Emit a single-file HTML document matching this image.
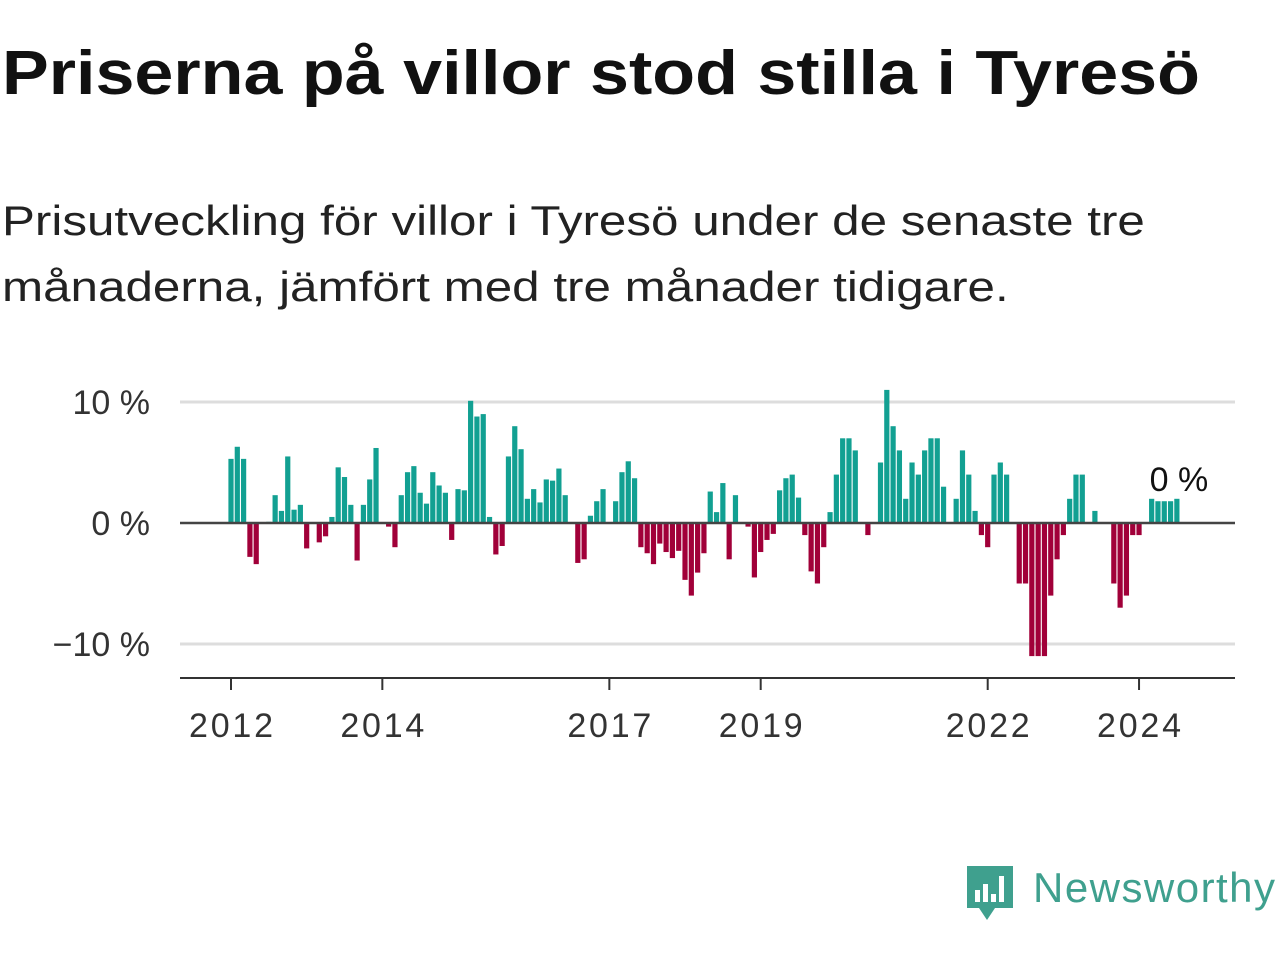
<!DOCTYPE html>
<html><head><meta charset="utf-8"><style>
body{margin:0;width:1280px;height:960px;background:#fff;font-family:"Liberation Sans",sans-serif;overflow:hidden;position:relative}
#title{position:absolute;left:2px;top:38px;font-size:62px;font-weight:bold;color:#111;margin:0;white-space:nowrap;transform:scaleX(1.13);transform-origin:left top}
#sub{position:absolute;left:2px;top:188px;font-size:42px;line-height:66px;color:#222;white-space:nowrap;transform:scaleX(1.175);transform-origin:left top}
#logo{position:absolute;left:965px;top:862px}
</style></head><body>
<h1 id="title">Priserna på villor stod stilla i Tyresö</h1>
<div id="sub">Prisutveckling för villor i Tyresö under de senaste tre<br>månaderna, jämfört med tre månader tidigare.</div>
<svg id="chart" width="1280" height="960" style="position:absolute;left:0;top:0"></svg>
<div id="logo">
<svg width="315" height="70">
<path d="M2 4 h46 v42 h-18 l-8 12 l-8 -12 h-12 z" fill="#3fa08e"/>
<rect x="10" y="28" width="5" height="12" fill="#fff"/><rect x="18" y="22" width="5" height="18" fill="#fff"/><rect x="26" y="32" width="5" height="8" fill="#fff"/><rect x="34" y="14" width="5" height="26" fill="#fff"/>
<text x="68" y="40" font-size="42" fill="#3fa08e" textLength="242" font-family="Liberation Sans, sans-serif">Newsworthy</text>
</svg></div>
<script>
const startYear = 2012;
const values = [5.3,6.3,5.3,-2.8,-3.4,null,0.1,2.3,1.0,5.5,1.1,1.5,
-2.1,null,-1.6,-1.1,0.5,4.6,3.8,1.5,-3.1,1.5,3.6,6.2,
null,-0.3,-2.0,2.3,4.2,4.7,2.5,1.6,4.2,3.1,2.5,-1.4,
2.8,2.7,10.1,8.8,9.0,0.5,-2.6,-1.9,5.5,8.0,6.1,2.0,
2.8,1.7,3.6,3.5,4.5,2.3,null,-3.3,-3.0,0.6,1.8,2.8,
null,1.8,4.2,5.1,3.7,-2.0,-2.5,-3.4,-1.7,-2.4,-2.9,-2.3,
-4.7,-6.0,-4.1,-2.5,2.6,0.9,3.3,-3.0,2.3,null,-0.3,-4.5,
-2.4,-1.4,-0.9,2.7,3.7,4.0,2.1,-1.0,-4.0,-5.0,-2.0,0.9,
4.0,7.0,7.0,6.0,null,-1.0,null,5.0,11.0,8.0,6.0,2.0,
5.0,4.0,6.0,7.0,7.0,3.0,null,2.0,6.0,4.0,1.0,-1.0,
-2.0,4.0,5.0,4.0,null,-5,-5,-11,-11,-11,-6,-3,
-1,2,4,4,null,1,null,null,-5,-7,-6,-1,
-1,null,2,1.8,1.8,1.8,2.0];
const yTicks = [10,0,-10];
const yTickLabels = ["10 %","0 %","−10 %"];
const xTicks = [2012,2014,2017,2019,2022,2024];
const lastLabel = "0 %";

const NS="http://www.w3.org/2000/svg";
const svg=document.getElementById('chart');
const x0=231, pxMonth=75.67/12;
const xs=m=>x0+m*pxMonth;
const ys=v=>523-v*12.1;
function el(t,a,p){const e=document.createElementNS(NS,t);for(const k in a)e.setAttribute(k,a[k]);(p||svg).appendChild(e);return e;}
yTicks.forEach((t,i)=>{
  if(t!==0){const g=el('line',{x1:180,x2:1235,y1:ys(t),y2:ys(t),stroke:'#ddd','stroke-width':3});
  
  }
  const l=el('text',{x:150,y:ys(t)+12,'text-anchor':'end','font-size':34,fill:'#333'});
  l.textContent=yTickLabels[i];
  
  
});
values.forEach((v,i)=>{
  if(v===null)return;
  const x=xs(i)-2.6, y=ys(Math.max(v,0)), h=Math.abs(ys(v)-ys(0));
  const b=el('rect',{x:x,y:y,width:5.2,height:Math.max(h,0.5),fill:v>=0?'#12a092':'#a10039'});
  
  
});
const z=el('line',{x1:180,x2:1235,y1:ys(0),y2:ys(0),stroke:'#444','stroke-width':2.5});


const ax=el('line',{x1:180,x2:1235,y1:678,y2:678,stroke:'#333','stroke-width':2});


xTicks.forEach(yr=>{
  const x=xs((yr-startYear)*12);
  const tk=el('line',{x1:x,x2:x,y1:678,y2:690,stroke:'#333','stroke-width':2});
  
  
  const t=el('text',{x:x,y:737,'text-anchor':'middle','font-size':34,fill:'#333',textLength:84});
  t.textContent=yr;
  
  
});
const li=values.length-1;
const lbl=el('text',{x:xs(li-4)-2,y:ys(values[li])-8,'text-anchor':'start','font-size':34,fill:'#111',stroke:'#fff','stroke-width':6,'paint-order':'stroke'});
lbl.textContent=lastLabel;


</script>
</body></html>
